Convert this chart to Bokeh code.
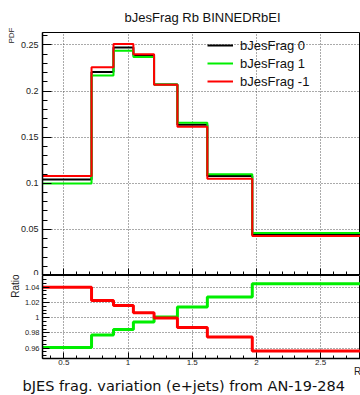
import math
from bokeh.plotting import figure
from bokeh.models import (FixedTicker, Legend, LegendItem, Range1d,
                          CustomJSTickFormatter, Title, LinearAxis)
from bokeh.layouts import column
from bokeh.embed import file_html
from bokeh.resources import INLINE

# ---------------- data ----------------
bin_edges = [0.334, 0.716, 0.887, 1.042, 1.203, 1.385, 1.618, 1.968, 3.0]
pdf_nominal = [0.104, 0.2206, 0.2473, 0.2387, 0.207, 0.1634, 0.108, 0.0443]
pdf_up = [0.0998, 0.217, 0.2437, 0.2368, 0.2072, 0.1657, 0.1098, 0.0461]
pdf_down = [0.108, 0.2257, 0.2509, 0.240, 0.2068, 0.1613, 0.105, 0.0428]
ratio_up = [0.9608, 0.9773, 0.9843, 0.9943, 1.0008, 1.0139, 1.027, 1.0444]
ratio_down = [1.040, 1.0226, 1.016, 1.0065, 0.9995, 0.987, 0.9746, 0.9563]
series_labels = ["bJesFrag 0", "bJesFrag 1", "bJesFrag -1"]
series_colors = ["#000000", "#00ee00", "#ff0000"]

x_ticks = [0.5, 1, 1.5, 2, 2.5]
x_tick_labels = ["0.5", "1", "1.5", "2", "2.5"]
pdf_ticks = [0, 0.05, 0.1, 0.15, 0.2, 0.25]
pdf_tick_labels = ["0", "0.05", "0.1", "0.15", "0.2", "0.25"]
ratio_ticks = [0.96, 0.98, 1, 1.02, 1.04]
ratio_tick_labels = ["0.96", "0.98", "1", "1.02", "1.04"]

title_text = "bJesFrag Rb BINNEDRbEI"
caption_text = "bJES frag. variation (e+jets) from AN-19-284"
x_label = "Rb"

X_RANGE = (0.334, 2.811)
PDF_RANGE = (0.0, 0.2635)
RATIO_RANGE = (0.9464, 1.0553)

FONT = "Liberation Sans"
GRID_COLOR = "#555555"
HAS_ALIGN = "axis_label_align" in LinearAxis.properties()


def label_formatter(ticks, labels):
    return CustomJSTickFormatter(args=dict(t=ticks, l=labels), code="""
        let best = 0, d = Infinity;
        for (let i = 0; i < t.length; i++) {
            const dd = Math.abs(t[i] - tick);
            if (dd < d) { d = dd; best = i; }
        }
        return d < 1e-6 ? l[best] : "";
    """)


def minor_list(lo, hi, step):
    n = int(round((hi - lo) / step))
    return [lo + i * step for i in range(n + 1)]


def style_common(p):
    p.outline_line_color = "black"
    p.outline_line_width = 1
    p.background_fill_color = "white"
    p.border_fill_color = "white"
    for ax in (p.xaxis[0], p.yaxis[0]):
        ax.axis_line_color = "black"
        ax.axis_line_width = 1.5
        ax.major_tick_out = 0
        ax.minor_tick_out = 0
        ax.major_tick_line_color = "black"
        ax.minor_tick_line_color = "black"
        ax.major_label_text_font = FONT
        ax.major_label_text_color = "#222222"
        ax.axis_label_text_font = FONT
        ax.axis_label_text_font_style = "normal"
        ax.axis_label_text_color = "#222222"
    p.xgrid.grid_line_color = GRID_COLOR
    p.xgrid.grid_line_dash = "1 2"
    p.ygrid.grid_line_color = GRID_COLOR
    p.ygrid.grid_line_dash = "1 2"


# ---------------- top panel ----------------
top = figure(width=360, height=275, output_backend="svg", toolbar_location=None,
             x_range=Range1d(*X_RANGE), y_range=Range1d(*PDF_RANGE),
             min_border_left=42, min_border_right=0, min_border_top=31, min_border_bottom=0)
style_common(top)
top.xaxis.ticker = FixedTicker(ticks=x_ticks, minor_ticks=minor_list(0.4, 2.8, 0.1))
top.xaxis.formatter = CustomJSTickFormatter(code="return '';")
top.xaxis.major_label_standoff = 0
top.xaxis.major_tick_in = 7
top.xaxis.minor_tick_in = 4
top.yaxis.ticker = FixedTicker(ticks=pdf_ticks, minor_ticks=minor_list(0.0, 0.26, 0.01))
top.yaxis.formatter = label_formatter(pdf_ticks, pdf_tick_labels)
top.yaxis.major_label_text_font_size = "9px"
top.yaxis.major_label_standoff = 4
top.yaxis.major_tick_in = 9
top.yaxis.minor_tick_in = 5
top.xgrid.ticker = FixedTicker(ticks=x_ticks)
top.ygrid.ticker = FixedTicker(ticks=pdf_ticks)

renderers = []
for vals, col in zip([pdf_nominal, pdf_up, pdf_down], series_colors):
    r = top.step(x=bin_edges, y=vals + [vals[-1]], mode="after",
                 line_color=col, line_width=2)
    renderers.append(r)

legend = Legend(items=[LegendItem(label=lab, renderers=[r]) for lab, r in zip(series_labels, renderers)],
                location=(165, 185), border_line_color=None, background_fill_alpha=0,
                padding=0, margin=0, spacing=0, label_height=18, glyph_height=18,
                glyph_width=26, label_standoff=7, label_text_font_size="13px",
                label_text_font=FONT, label_text_color="#111111")
top.add_layout(legend, "center")

top.add_layout(Title(text=title_text, align="left", offset=82, standoff=15,
                     text_font=FONT, text_font_size="13px", text_font_style="normal",
                     text_color="#111111"), "above")
top.add_layout(Title(text="PDF", align="right", offset=-5, standoff=4,
                     text_font=FONT, text_font_size="8px", text_font_style="normal",
                     text_color="#222222"), "left")

# ---------------- ratio panel ----------------
bot = figure(width=360, height=120, output_backend="svg", toolbar_location=None,
             x_range=top.x_range, y_range=Range1d(*RATIO_RANGE),
             min_border_left=42, min_border_right=0, min_border_top=0, min_border_bottom=37)
style_common(bot)
bot.xaxis.ticker = FixedTicker(ticks=x_ticks, minor_ticks=minor_list(0.4, 2.8, 0.1))
bot.xaxis.formatter = label_formatter(x_ticks, x_tick_labels)
bot.xaxis.major_label_text_font_size = "8px"
bot.xaxis.major_label_standoff = 1
bot.xaxis.major_tick_in = 6
bot.xaxis.minor_tick_in = 3
bot.xaxis.axis_label = x_label
bot.xaxis.axis_label_text_font_size = "10px"
bot.xaxis.axis_label_standoff = -2
if HAS_ALIGN:
    bot.xaxis.axis_label_align = "end"
bot.yaxis.ticker = FixedTicker(ticks=ratio_ticks, minor_ticks=minor_list(0.95, 1.055, 0.005))
bot.yaxis.formatter = label_formatter(ratio_ticks, ratio_tick_labels)
bot.yaxis.major_label_text_font_size = "7.5px"
bot.yaxis.major_label_standoff = 3
bot.yaxis.major_tick_in = 7
bot.yaxis.minor_tick_in = 4
bot.xgrid.ticker = FixedTicker(ticks=x_ticks)
bot.ygrid.ticker = FixedTicker(ticks=ratio_ticks)

for vals, col in zip([ratio_up, ratio_down], series_colors[1:]):
    bot.step(x=bin_edges, y=vals + [vals[-1]], mode="after", line_color=col, line_width=3)

bot.add_layout(Title(text="Ratio", align="right", offset=-1, standoff=2,
                     text_font=FONT, text_font_size="10px", text_font_style="normal",
                     text_color="#222222"), "left")
bot.add_layout(Title(text=caption_text, align="left", offset=-20, standoff=-7,
                     text_font="DejaVu Sans", text_font_size="14.5px", text_font_style="normal",
                     text_color="#111111"), "below")

layout = column(top, bot, spacing=0)
open("out.html", "w").write(file_html(layout, INLINE))
